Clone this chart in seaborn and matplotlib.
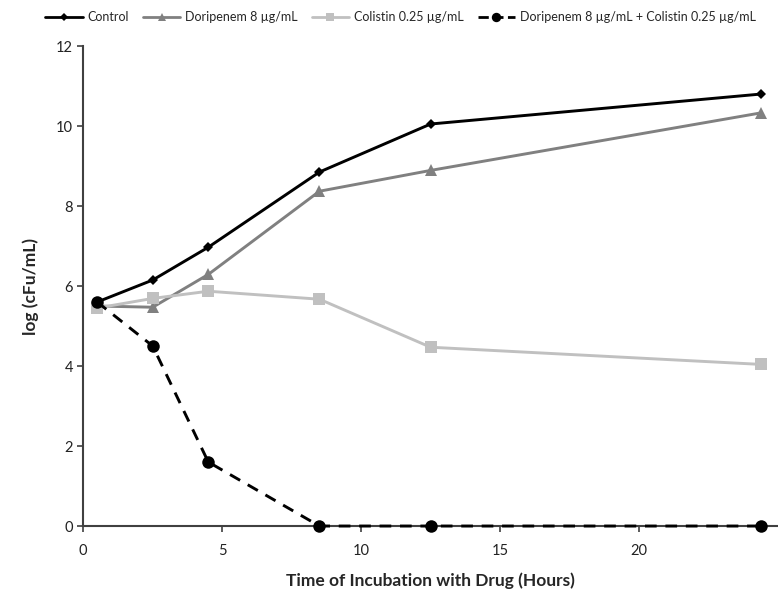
import pandas as pd
import numpy as np
import seaborn as sns
import matplotlib
matplotlib.use("Agg")
from matplotlib import pyplot as plt
from matplotlib.lines import Line2D

# time points (hours) and log(cFu/mL)
hours = [0.5, 2.5, 4.5, 8.5, 12.5, 24.4]
control = [5.6, 6.15, 6.97, 8.85, 10.05, 10.8]
doripenem = [5.5, 5.47, 6.29, 8.37, 8.89, 10.33]
colistin = [5.45, 5.69, 5.87, 5.67, 4.47, 4.04]
combo = [5.6, 4.5, 1.6, 0.0, 0.0, 0.0]

names = ["Control", "Doripenem 8 µg/mL", "Colistin 0.25 µg/mL",
         "Doripenem 8 µg/mL + Colistin 0.25 µg/mL"]

df = pd.DataFrame({
    "Time": hours * 4,
    "logcfu": control + doripenem + colistin + combo,
    "Treatment": [n for n in names for _ in hours],
})

sns.set_style("ticks")
plt.rcParams["font.family"] = ["Lato", "DejaVu Sans"]

fig = plt.figure(figsize=(7.78, 5.96), dpi=100)
ax = fig.add_axes([0.107, 0.1174, 0.893, 0.8054])

palette = {names[0]: "#000000", names[1]: "#808080",
           names[2]: "#c0c0c0", names[3]: "#000000"}
markers = {names[0]: "D", names[1]: "^", names[2]: "s", names[3]: "o"}
dashes = {names[0]: "", names[1]: "", names[2]: "", names[3]: (4, 3)}
sizes = {names[0]: 5, names[1]: 8, names[2]: 8, names[3]: 9}

sns.lineplot(data=df, x="Time", y="logcfu", hue="Treatment", style="Treatment",
             palette=palette, markers=markers, dashes=dashes, linewidth=2.1,
             markeredgewidth=0, ax=ax, legend=False)

# marker sizes per series, draw over the axis line
for line, n in zip(ax.lines, names):
    line.set_markersize(sizes[n])
    line.set_clip_on(False)
    line.set_zorder(5)

ax.set_xlim(0, 25)
ax.set_ylim(0, 12)
ax.set_xticks([0, 5, 10, 15, 20])
ax.set_yticks(range(0, 13, 2))
ax.tick_params(axis="both", labelsize=10.5, colors="#404040", length=4,
               width=1.2, labelcolor="#222222")
ax.tick_params(axis="x", pad=9)
for s in ["left", "bottom"]:
    ax.spines[s].set_color("#404040")
    ax.spines[s].set_linewidth(1.5)
sns.despine(ax=ax)

ax.set_xlabel("Time of Incubation with Drug (Hours)", fontsize=12.5,
              fontweight="bold", labelpad=10)
ax.set_ylabel("log (cFu/mL)", fontsize=12.5, fontweight="bold", labelpad=12)

handles = [Line2D([], [], color=palette[n], marker=markers[n],
                  markersize=sizes[n] * 0.75, markeredgewidth=0, linewidth=2,
                  linestyle="--" if n == names[3] else "-") for n in names]
fig.legend(handles, names, loc="upper center", bbox_to_anchor=(0.515, 1.0),
           ncol=4, frameon=False, handlelength=3.0, columnspacing=1.1,
           handletextpad=0.4, fontsize=9)

fig.savefig("out.png", dpi=100)
